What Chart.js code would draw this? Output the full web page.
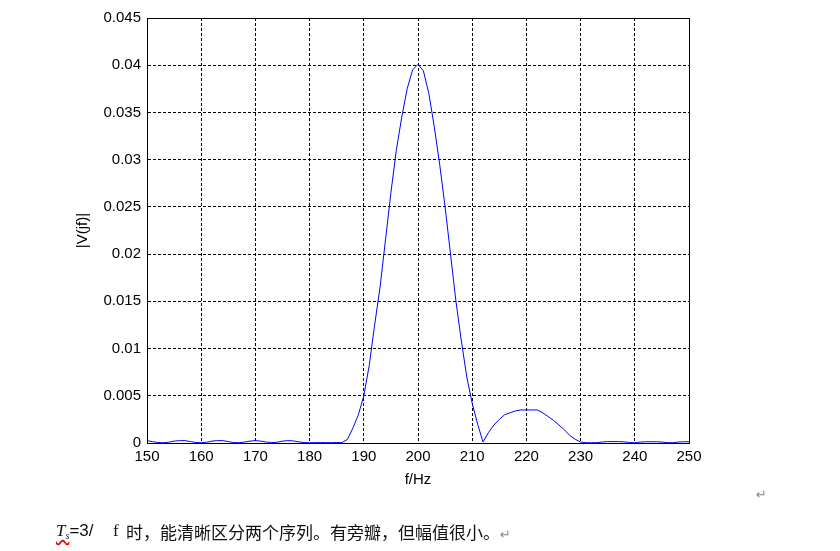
<!DOCTYPE html>
<html lang="zh">
<head>
  <meta charset="UTF-8">
  <title>|V(jf)| spectrum</title>
  <script src="https://cdn.jsdelivr.net/npm/chart.js"></script>
  <style>
    body { margin: 0; background: #fff; }
    #wrap { position: relative; width: 840px; height: 551px; overflow: hidden; }
    #chart { position: absolute; left: 0; top: 0; }
    .note { position: absolute; white-space: nowrap; color: #111; }
    .ts { left: 56px; top: 521px; font: 17px "Liberation Sans", Arial, sans-serif; line-height: 19px; }
    .ts i { font-family: "Liberation Serif", serif; text-decoration: underline wavy #e00; text-underline-offset: 3px; }
    .ts sub { font-size: 10px; font-style: italic; vertical-align: -3px; }
    .f { left: 113px; top: 521px; font: 17px "Liberation Serif", serif; line-height: 19px; }
    .cn { left: 126px; top: 522px; font: 17px "Noto Sans CJK SC", sans-serif; line-height: 19px; }
    .ret { color: #888; font-family: "DejaVu Sans", sans-serif; font-size: 13px; }
    .ret2 { left: 756px; top: 487px; }
  </style>
</head>
<body>
<div id="wrap">
  <canvas id="chart" width="840" height="551"></canvas>
  <div class="note ts"><i>T<sub>s</sub></i>=3/</div>
  <div class="note f">f</div>
  <div class="note cn">时，能清晰区分两个序列。有旁瓣，但幅值很小。<span class="ret">↵</span></div>
  <div class="note ret ret2">↵</div>
</div>

<script>
  // frequency axis (Hz) and magnitude
  const freqs = [
    150, 151, 152, 153, 154, 155, 156, 157, 158, 159,
    160, 161, 162, 163, 164, 165, 166, 167, 168, 169,
    170, 171, 172, 173, 174, 175, 176, 177, 178, 179,
    180, 181, 182, 183, 184, 185, 186, 187, 188, 189,
    190, 191, 192, 193, 194, 195, 196, 197, 198, 199,
    200, 201, 202, 203, 204, 205, 206, 207, 208, 209,
    210, 211, 212, 213, 214, 215, 216, 217, 218, 219,
    220, 221, 222, 223, 224, 225, 226, 227, 228, 229,
    230, 231, 232, 233, 234, 235, 236, 237, 238, 239,
    240, 241, 242, 243, 244, 245, 246, 247, 248, 249, 250
  ];
  const magnitude = [
    0.00025, 0.00015, 0.00005, 0.00003, 0.00008, 0.0002, 0.00025, 0.00025, 0.00015, 0.00005,
    0.00003, 0.00008, 0.0002, 0.00025, 0.00025, 0.00015, 0.00005, 0.00003, 0.0001, 0.0002,
    0.00025, 0.0002, 0.0001, 0.00004, 0.00008, 0.0002, 0.00025, 0.00022, 0.00012, 0.00005,
    0.00003, 0.00003, 0.00004, 0.00004, 0.00003, 0.00005, 0.00004, 0.0004, 0.0016, 0.003,
    0.005, 0.0082, 0.0125, 0.0165, 0.0215, 0.0265, 0.031, 0.0345, 0.0375, 0.0395,
    0.0401, 0.0394, 0.037, 0.0335, 0.0295, 0.025, 0.02, 0.015, 0.0108, 0.007,
    0.0042, 0.002, 0.0001, 0.0011, 0.0019, 0.0025, 0.003, 0.0032, 0.0034, 0.0035,
    0.0035, 0.0035, 0.0035, 0.0032, 0.0028, 0.0024, 0.0019, 0.0014, 0.0008, 0.0004,
    0.0001, 0.00003, 0.00003, 0.00003, 0.0001, 0.00015, 0.00015, 0.00015, 0.00012, 0.00005,
    0.00003, 0.0001, 0.00013, 0.00013, 0.00013, 0.0001, 0.00004, 0.00003, 0.0001, 0.00013, 0.00013
  ];
  const xTicks = [150, 160, 170, 180, 190, 200, 210, 220, 230, 240, 250];
  const yTicks = [0, 0.005, 0.01, 0.015, 0.02, 0.025, 0.03, 0.035, 0.04, 0.045];

  const tickFont = { family: '"Liberation Sans", Arial, sans-serif', size: 15 };

  // MATLAB style box round the plot area
  const boxPlugin = {
    id: 'box',
    afterDraw(chart) {
      const a = chart.chartArea, ctx = chart.ctx;
      ctx.save();
      ctx.strokeStyle = '#000';
      ctx.lineWidth = 1;
      ctx.strokeRect(a.left + 0.5, a.top + 0.5, a.right - a.left, a.bottom - a.top);
      ctx.restore();
    }
  };

  new Chart(document.getElementById('chart'), {
    type: 'line',
    data: {
      datasets: [{
        data: freqs.map((f, i) => ({ x: f, y: magnitude[i] })),
        borderColor: '#0000ff',
        borderWidth: 1,
        pointRadius: 0,
        tension: 0,
        fill: false
      }]
    },
    options: {
      responsive: false,
      animation: false,
      devicePixelRatio: 1,
      layout: { autoPadding: false, padding: { left: 0, top: 18, right: 151, bottom: 62 } },
      plugins: { legend: { display: false }, tooltip: { enabled: false } },
      scales: {
        x: {
          type: 'linear',
          min: 150, max: 250,
          afterBuildTicks: s => { s.ticks = xTicks.map(v => ({ value: v })); },
          afterFit: s => { s.height = 46; },
          ticks: { color: '#000', font: tickFont, padding: 5, maxRotation: 0, autoSkip: false },
          grid: { color: '#000', lineWidth: 1, drawTicks: false, borderDash: [3, 2] },
          border: { display: true, color: '#000', width: 1, dash: [3, 2] },
          title: { display: true, text: 'f/Hz', color: '#000', font: tickFont, padding: 0 }
        },
        y: {
          min: 0, max: 0.045,
          afterBuildTicks: s => { s.ticks = yTicks.map(v => ({ value: v })); },
          afterFit: s => { s.width = 147; },
          ticks: {
            color: '#000', font: tickFont, padding: 6, autoSkip: false,
            callback: v => String(+v.toFixed(3))
          },
          grid: { color: '#000', lineWidth: 1, drawTicks: false, borderDash: [3, 2] },
          border: { display: true, color: '#000', width: 1, dash: [3, 2] },
          title: { display: true, text: '|V(jf)|', color: '#000', font: tickFont, padding: { top: 74, bottom: 0 } }
        }
      }
    },
    plugins: [boxPlugin]
  });
</script>
</body>
</html>
